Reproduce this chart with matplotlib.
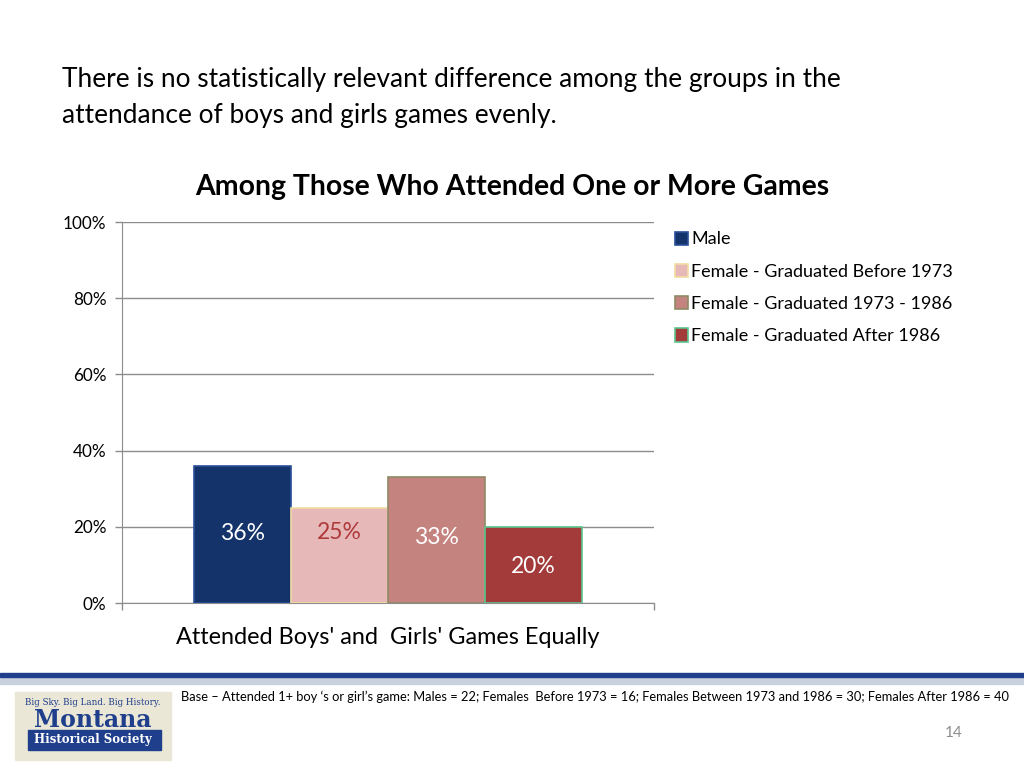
import matplotlib
matplotlib.use('Agg')
import matplotlib.pyplot as plt
from matplotlib.patches import Rectangle
import numpy as np

plt.rcParams['font.family'] = ['Lato', 'DejaVu Sans']

# data
category = "Attended Boys' and  Girls' Games Equally"
series = ['Male', 'Female - Graduated Before 1973',
          'Female - Graduated 1973 - 1986', 'Female - Graduated After 1986']
values = [36, 25, 33, 20]
value_labels = ['36%', '25%', '33%', '20%']
yticks = [0, 20, 40, 60, 80, 100]
ytick_labels = ['0%', '20%', '40%', '60%', '80%', '100%']

colors = ['#15336b', '#e6b9b8', '#c4837f', '#a33b3b']
edges = ['#2a4f9a', '#f2dca0', '#8f8a66', '#5cc48c']
label_colors = ['white', '#b0393b', 'white', 'white']
label_y = [18.3, 18.6, 17.3, 9.6]

fig = plt.figure(figsize=(10.24, 7.68), dpi=100)
ax = fig.add_axes([0.119, 0.2148, 0.52, 0.4961])

w = 0.1823
x = (np.arange(len(values)) - 1.5) * w
for i in range(len(values)):
    ax.bar(x[i], values[i], width=w, color=colors[i], edgecolor=edges[i],
           linewidth=1.2, label=series[i], zorder=3)
    ax.text(x[i], label_y[i], value_labels[i], ha='center', va='center',
            color=label_colors[i], fontsize=16.5, zorder=4)

ax.set_xlim(-0.5, 0.5)
ax.set_ylim(0, 100)
ax.set_yticks(yticks)
ax.set_yticklabels(ytick_labels, fontsize=12.3)
ax.yaxis.grid(True, color='#8c8c8c', linewidth=1)
ax.set_axisbelow(True)
ax.set_xticks([-0.5, 0.5])
ax.set_xticklabels(['', ''])
ax.tick_params(axis='both', color='#8c8c8c', length=5, width=1)
ax.tick_params(axis='y', pad=6)
for s in ['top', 'right']:
    ax.spines[s].set_visible(False)
for s in ['left', 'bottom']:
    ax.spines[s].set_color('#8c8c8c')
ax.text(0, -6.3, category, transform=ax.transData, ha='center', va='top',
        fontsize=16.9)

ax.legend(loc='upper left', bbox_to_anchor=(0.652, 0.708),
          bbox_transform=fig.transFigure, frameon=False, fontsize=13,
          handlelength=0.75, handleheight=0.75, handletextpad=0.15,
          labelspacing=0.9, borderaxespad=0)

# slide texts
fig.text(0.0605, 0.897, 'There is no statistically relevant difference among the groups in the',
         fontsize=18.95, va='center', ha='left')
fig.text(0.0605, 0.849, 'attendance of boys and girls games evenly.',
         fontsize=18.95, va='center', ha='left')
fig.text(0.5, 0.757, 'Among Those Who Attended One or More Games',
         fontsize=20.4, fontweight='bold', va='center', ha='center')

# footer band
fig.add_artist(Rectangle((0, 0.118), 1, 0.006, transform=fig.transFigure,
                         color='#1f3f8c', zorder=5))
fig.add_artist(Rectangle((0, 0.110), 1, 0.008, transform=fig.transFigure,
                         color='#c9d0de', zorder=4))
fig.text(0.177, 0.0925,
         'Base \u2013 Attended 1+ boy \u2018s or girl\u2019s game: Males = 22; Females  Before 1973 = 16; '
         'Females Between 1973 and 1986 = 30; Females After 1986 = 40',
         fontsize=9.3, va='center', ha='left')
fig.text(0.931, 0.045, '14', fontsize=11, color='#8c8c8c', va='center', ha='center')

# logo
fig.add_artist(Rectangle((0.015, 0.01), 0.152, 0.089, transform=fig.transFigure,
                         color='#ebe7d6', zorder=1))
fig.add_artist(Rectangle((0.027, 0.024), 0.130, 0.026, transform=fig.transFigure,
                         color='#1f3f8c', zorder=2))
fig.text(0.091, 0.085, 'Big Sky. Big Land. Big History.', family='DejaVu Serif',
         fontsize=6.3, color='#1f3f8c', ha='center', va='center', zorder=3)
fig.text(0.091, 0.062, 'Montana', family='DejaVu Serif', fontweight='bold',
         fontsize=17, color='#1f3f8c', ha='center', va='center', zorder=3)
fig.text(0.091, 0.037, 'Historical Society', family='DejaVu Serif', fontweight='bold',
         fontsize=8.5, color='white', ha='center', va='center', zorder=3)

fig.savefig('out.png', dpi=100)
